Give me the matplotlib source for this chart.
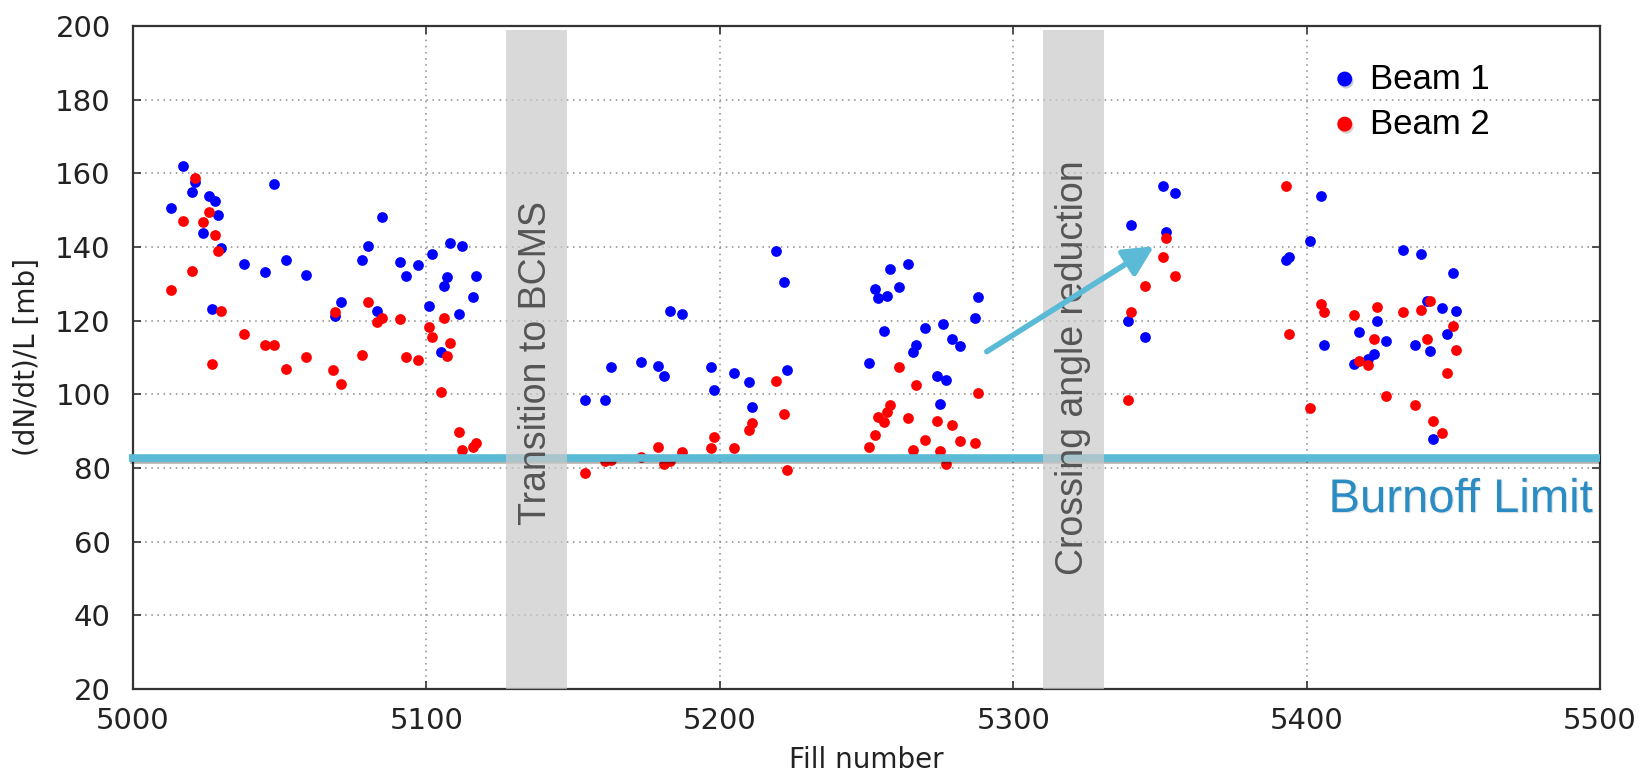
import matplotlib
matplotlib.use("Agg")
import matplotlib.pyplot as plt
import matplotlib.patheffects as pe

# ---------------- data ----------------
beam1_fill = [5013, 5017, 5020, 5021, 5024, 5026, 5027, 5028, 5029, 5030,
              5038, 5045, 5048, 5052, 5059, 5069, 5071, 5078, 5080, 5083,
              5085, 5091, 5093, 5097, 5101, 5102, 5105, 5106, 5107, 5108,
              5111, 5112, 5116, 5117,
              5154, 5161, 5163, 5173, 5179, 5181, 5183, 5187, 5197, 5198,
              5205, 5210, 5211, 5219, 5222, 5223, 5251, 5253, 5254, 5256,
              5257, 5258, 5261, 5264, 5266, 5267, 5270, 5274, 5275, 5276,
              5277, 5279, 5282, 5287, 5288,
              5339, 5340, 5345, 5351, 5352, 5355, 5393, 5394, 5401, 5405,
              5406, 5416, 5418, 5421, 5423, 5424, 5427, 5433, 5437, 5439,
              5441, 5442, 5443, 5446, 5448, 5450, 5451]
beam1_val = [150.5, 162.1, 155.0, 157.6, 143.7, 153.9, 123.1, 152.5, 148.6, 139.6,
             135.5, 133.2, 157.2, 136.6, 132.5, 121.3, 125.0, 136.6, 140.4, 122.7,
             148.2, 135.8, 132.1, 135.1, 123.9, 138.1, 111.5, 129.5, 131.8, 141.1,
             121.7, 140.4, 126.5, 132.1,
             98.4, 98.4, 107.4, 108.8, 107.8, 105.1, 122.7, 121.9, 107.5, 101.1,
             105.9, 103.3, 96.5, 138.8, 130.6, 106.7, 108.6, 128.7, 126.1, 117.1,
             126.8, 133.9, 129.1, 135.5, 111.5, 113.3, 117.9, 104.9, 97.3, 119.0,
             104.0, 115.0, 113.0, 120.8, 126.5,
             119.8, 146.0, 115.6, 156.5, 144.2, 154.7, 136.5, 137.3, 141.5, 153.9,
             113.5, 108.3, 117.0, 109.7, 111.0, 120.0, 114.4, 139.3, 113.5, 138.1,
             125.3, 111.7, 87.9, 123.4, 116.3, 132.8, 122.6]

beam2_fill = [5013, 5017, 5020, 5021, 5024, 5026, 5027, 5028, 5029, 5030,
              5038, 5045, 5048, 5052, 5059, 5068, 5069, 5071, 5078, 5080,
              5083, 5085, 5091, 5093, 5097, 5101, 5102, 5105, 5106, 5107,
              5108, 5111, 5112, 5116, 5117,
              5154, 5161, 5163, 5173, 5179, 5181, 5183, 5187, 5197, 5198,
              5205, 5210, 5211, 5219, 5222, 5223, 5251, 5253, 5254, 5256,
              5257, 5258, 5261, 5264, 5266, 5267, 5270, 5274, 5275, 5277,
              5279, 5282, 5287, 5288,
              5339, 5340, 5345, 5351, 5352, 5355, 5393, 5394, 5401, 5405,
              5406, 5416, 5418, 5421, 5423, 5424, 5427, 5433, 5437, 5439,
              5441, 5442, 5443, 5446, 5448, 5450, 5451]
beam2_val = [128.4, 147.1, 133.6, 158.6, 146.8, 149.5, 108.1, 143.3, 138.8, 122.7,
             116.4, 113.3, 113.3, 107.0, 110.0, 106.7, 122.4, 102.9, 110.7, 125.1,
             119.7, 120.8, 120.5, 110.0, 109.3, 118.2, 115.6, 100.6, 120.8, 110.4,
             113.8, 89.8, 84.8, 85.8, 86.8,
             78.6, 82.0, 82.2, 83.1, 85.7, 81.0, 81.9, 84.3, 85.3, 88.3,
             85.3, 90.2, 92.1, 103.6, 94.6, 79.4, 85.7, 89.0, 93.9, 92.6,
             95.2, 97.0, 107.4, 93.6, 84.8, 102.6, 87.6, 92.7, 84.7, 81.2,
             91.7, 87.2, 86.8, 100.3,
             98.5, 122.3, 129.5, 137.3, 142.5, 132.0, 156.5, 116.3, 96.2, 124.5,
             122.3, 121.5, 109.1, 108.0, 115.1, 123.8, 99.6, 122.3, 97.0, 123.0,
             115.1, 125.3, 92.8, 89.5, 105.7, 118.5, 112.1]

burnoff_limit = 82.8
band_ranges = [(5127, 5148), (5310, 5331)]
band_labels = ["Transition to BCMS", "Crossing angle reduction"]
band_label_top = [152.5, 163.4]
arrow_start = (5291, 111.6)
arrow_end = (5348, 140.2)
x_ticks = [5000, 5100, 5200, 5300, 5400, 5500]
y_ticks = [20, 40, 60, 80, 100, 120, 140, 160, 180, 200]

# ---------------- figure ----------------
fig = plt.figure(figsize=(16.4, 7.71), dpi=100)
fig.subplots_adjust(left=0.0811, right=0.9756, bottom=0.1064, top=0.9663)
ax = fig.add_subplot(111)

ax.set_xlim(5000, 5500)
ax.set_ylim(20, 200)
ax.set_xticks(x_ticks)
ax.set_yticks(y_ticks)
ax.grid(True, linestyle=(0, (1, 3)), color='#8a8a8a', lw=1.1, zorder=0)
ax.set_axisbelow(True)
ax.tick_params(direction='in', length=6, width=1.2, color='#333333',
               top=True, right=True, labelsize=21, labelcolor='#222222')
ax.tick_params(axis='y', pad=16)
ax.tick_params(axis='x', pad=13)
for s in ax.spines.values():
    s.set_color('#333333')
    s.set_linewidth(1.6)

ax.set_xlabel('Fill number', fontsize=20, color='#222222', labelpad=8)
ax.set_ylabel('(dN/dt)/L [mb]', fontsize=20, color='#222222', labelpad=10)

ax.scatter(beam1_fill, beam1_val, s=60, color='#0000ff', lw=0, zorder=2)
ax.scatter(beam2_fill, beam2_val, s=60, color='#ff0000', lw=0, zorder=3)

# burnoff line
ax.plot([-0.003, 1.0], [burnoff_limit, burnoff_limit],
        transform=ax.get_yaxis_transform(), lw=5.5, color='#5bbad5',
        clip_on=False, zorder=4, solid_capstyle='butt',
        path_effects=[pe.SimpleLineShadow(offset=(1.0, -2.0), alpha=0.3),
                      pe.Normal()])
ax.text(0.995, 0.285, 'Burnoff Limit', transform=ax.transAxes, ha='right',
        va='center', fontsize=34, color='#2b8cc4', family='Liberation Sans',
        zorder=7,
        path_effects=[pe.withSimplePatchShadow(offset=(0.8, -0.8), alpha=0.12)])

# bands with labels
for (x0, x1), lab, top in zip(band_ranges, band_labels, band_label_top):
    ax.axvspan(x0, x1, ymin=0, ymax=0.994, color='#c9c9c9', alpha=0.7,
               lw=0, zorder=5)
    ax.text((x0 + x1) / 2, top, lab, rotation=90, ha='center', va='top',
            fontsize=27, color='#555555', family='Liberation Sans', zorder=6)

# arrow
ax.annotate('', xy=arrow_end, xytext=arrow_start, zorder=6,
            arrowprops=dict(arrowstyle='-|>,head_length=0.9,head_width=0.45',
                            lw=4, color='#5bbad5', shrinkA=0, shrinkB=0,
                            mutation_scale=20,
                            path_effects=[pe.SimplePatchShadow(offset=(1.0, -1.5), alpha=0.25),
                                          pe.Normal()]))

# legend (manual)
leg_x, leg_tx = 0.826, 0.843
for y, col, lab in [(0.920, '#0000ff', 'Beam 1'), (0.852, '#ff0000', 'Beam 2')]:
    ax.scatter([leg_x], [y], transform=ax.transAxes, s=115, color=col, lw=0,
               clip_on=False, zorder=8,
               path_effects=[pe.SimplePatchShadow(offset=(1.0, -1.5), alpha=0.2),
                             pe.Normal()])
    ax.text(leg_tx, y, lab, transform=ax.transAxes, ha='left', va='center',
            fontsize=25, color='black', family='Liberation Sans', zorder=8)

fig.savefig('out.png', dpi=100)
